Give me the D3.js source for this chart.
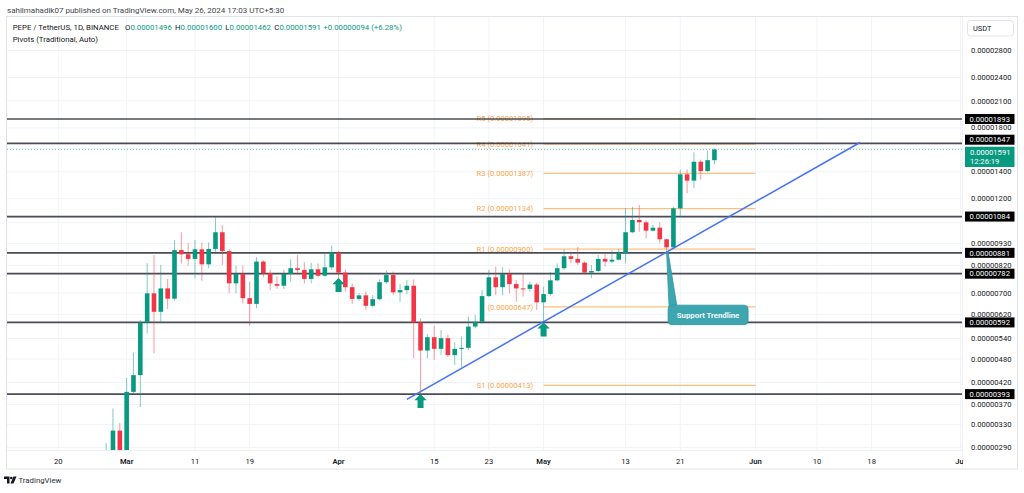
<!DOCTYPE html>
<html><head><meta charset="utf-8">
<script src="https://cdn.jsdelivr.net/npm/d3@7"></script>
<style>
body{margin:0;background:#fff;}
svg{display:block;font-family:Roboto,"Liberation Sans",sans-serif;}
</style>
</head><body>
<svg id="c" width="1024" height="493"></svg>
<script>
// ---------------- DATA ----------------
const firstDay = "2024-02-27";   // first daily candle
const opens  = [265e-8,280e-8,319e-8,281e-8,398e-8,438e-8,592e-8,699e-8,629e-8,719e-8,678e-8,895e-8,874e-8,851e-8,899e-8,825e-8,901e-8,991e-8,890e-8,740e-8,781e-8,680e-8,658e-8,838e-8,784e-8,737e-8,730e-8,781e-8,807e-8,799e-8,759e-8,802e-8,773e-8,811e-8,882e-8,787e-8,724e-8,677e-8,691e-8,651e-8,676e-8,745e-8,776e-8,703e-8,712e-8,730e-8,592e-8,504e-8,544e-8,509e-8,541e-8,491e-8,509e-8,512e-8,578e-8,594e-8,688e-8,766e-8,724e-8,781e-8,737e-8,719e-8,717e-8,735e-8,664e-8,696e-8,753e-8,807e-8,864e-8,851e-8,833e-8,787e-8,794e-8,851e-8,838e-8,847e-8,879e-8,991e-8,1063e-8,1049e-8,1000e-8,1017e-8,952e-8,909e-8,1136e-8,1380e-8,1331e-8,1483e-8,1406e-8,1496e-8];
const highs  = [297e-8,362e-8,333e-8,431e-8,498e-8,600e-8,830e-8,870e-8,822e-8,759e-8,948e-8,991e-8,930e-8,948e-8,934e-8,934e-8,1080e-8,1033e-8,898e-8,819e-8,819e-8,747e-8,859e-8,845e-8,800e-8,772e-8,799e-8,849e-8,870e-8,835e-8,833e-8,830e-8,879e-8,918e-8,890e-8,802e-8,740e-8,700e-8,706e-8,692e-8,757e-8,796e-8,792e-8,737e-8,754e-8,757e-8,606e-8,554e-8,581e-8,567e-8,551e-8,528e-8,546e-8,612e-8,618e-8,712e-8,799e-8,814e-8,811e-8,802e-8,754e-8,779e-8,747e-8,742e-8,726e-8,790e-8,830e-8,899e-8,887e-8,911e-8,840e-8,822e-8,870e-8,882e-8,895e-8,899e-8,1137e-8,1147e-8,1158e-8,1060e-8,1033e-8,1049e-8,955e-8,1145e-8,1418e-8,1418e-8,1565e-8,1500e-8,1579e-8,1600e-8];
const lows   = [258e-8,272e-8,274e-8,276e-8,395e-8,365e-8,556e-8,496e-8,589e-8,639e-8,670e-8,830e-8,819e-8,762e-8,751e-8,807e-8,879e-8,822e-8,699e-8,699e-8,660e-8,581e-8,642e-8,766e-8,712e-8,717e-8,717e-8,747e-8,781e-8,740e-8,740e-8,766e-8,768e-8,799e-8,754e-8,706e-8,658e-8,670e-8,636e-8,645e-8,672e-8,737e-8,692e-8,666e-8,696e-8,482e-8,393e-8,482e-8,478e-8,491e-8,486e-8,464e-8,458e-8,505e-8,572e-8,588e-8,684e-8,692e-8,692e-8,699e-8,666e-8,686e-8,706e-8,636e-8,594e-8,690e-8,748e-8,799e-8,830e-8,822e-8,783e-8,762e-8,790e-8,814e-8,830e-8,843e-8,830e-8,985e-8,994e-8,957e-8,995e-8,930e-8,887e-8,900e-8,1080e-8,1238e-8,1274e-8,1339e-8,1395e-8,1462e-8];
const closes = [280e-8,319e-8,281e-8,398e-8,438e-8,592e-8,699e-8,629e-8,719e-8,678e-8,895e-8,874e-8,851e-8,899e-8,825e-8,901e-8,991e-8,890e-8,740e-8,781e-8,680e-8,658e-8,838e-8,784e-8,740e-8,730e-8,781e-8,807e-8,799e-8,759e-8,802e-8,773e-8,811e-8,882e-8,787e-8,724e-8,677e-8,691e-8,651e-8,676e-8,745e-8,776e-8,703e-8,712e-8,730e-8,592e-8,504e-8,544e-8,509e-8,541e-8,491e-8,509e-8,512e-8,578e-8,594e-8,688e-8,766e-8,724e-8,781e-8,737e-8,719e-8,717e-8,735e-8,664e-8,696e-8,753e-8,807e-8,864e-8,851e-8,833e-8,787e-8,794e-8,851e-8,838e-8,847e-8,879e-8,991e-8,1063e-8,1049e-8,1000e-8,1017e-8,952e-8,909e-8,1136e-8,1380e-8,1331e-8,1483e-8,1406e-8,1496e-8,1591e-8];

const priceTicks = [2800e-8,2400e-8,2100e-8,1800e-8,1600e-8,1400e-8,1200e-8,1050e-8,930e-8,820e-8,700e-8,620e-8,540e-8,480e-8,420e-8,370e-8,330e-8,290e-8];
const dateTicks  = ["2024-02-20","2024-03-01","2024-03-11","2024-03-19","2024-04-01","2024-04-15","2024-04-23","2024-05-01","2024-05-13","2024-05-21","2024-06-01","2024-06-10","2024-06-18","2024-07-01"];

const levelValues = [1893e-8,1647e-8,1084e-8,881e-8,782e-8,592e-8,393e-8];
const pivotNames  = ["R5","R4","R3","R2","R1","","S1"];
const pivotValues = [1895e-8,1641e-8,1387e-8,1134e-8,900e-8,647e-8,413e-8];
const pivotPeriod = ["2024-05-01","2024-06-01"];

const trendDates  = ["2024-04-11T00:00","2024-06-16T07:00"];
const trendValues = [381.5e-8,1655e-8];

const arrowDates  = ["2024-04-01","2024-04-13","2024-05-01"];
const arrowValues = [763e-8,393e-8,592e-8];

const calloutText = "Support Trendline";
const calloutDate = "2024-05-19";
const calloutValue = 887e-8;

const headerTop = "sahilmahadik07 published on TradingView.com, May 26, 2024 17:03 UTC+5:30";
const symbolText = "PEPE / TetherUS, 1D, BINANCE";
const ohlcLabels = ["O","H","L","C"];
const ohlcLast = ["0.00001496","0.00001600","0.00001462","0.00001591"];
const changeText = "+0.00000094 (+6.28%)";
const indicatorText = "Pivots (Traditional, Auto)";
const countdown = "12:26:19";
const currency = "USDT";

// ---------------- SETUP ----------------
const UP="#089981", DOWN="#f23645", ORANGE="#f7a74e", ORANGE_LINE="#fbc07f";
const fmt = v => v.toFixed(8);
const parseD = d3.utcParse("%Y-%m-%d"), parseDT = d3.utcParse("%Y-%m-%dT%H:%M");
const svg = d3.select("#c");
const paneL=7, paneR=962, paneT=17, paneB=450;

const x = d3.scaleUtc().domain([parseD("2024-02-20"), parseD("2024-07-01")]).range([58.3, 960.5]);
const y = d3.scaleLog().domain([393e-8, 1893e-8]).range([394.1, 119]);

const start = parseD(firstDay);
const candles = closes.map((c,i)=>({date: d3.utcDay.offset(start,i), o:opens[i], h:highs[i], l:lows[i], c}));
const last = candles[candles.length-1];

// frame
svg.append("rect").attr("x",6.5).attr("y",16.5).attr("width",1011).attr("height",452.5)
  .attr("fill","#fff").attr("stroke","#e0e3eb");

const defs = svg.append("defs");
defs.append("clipPath").attr("id","pane").append("rect")
  .attr("x",paneL).attr("y",paneT).attr("width",paneR-paneL).attr("height",paneB-paneT);
defs.append("clipPath").attr("id","xlab").append("rect")
  .attr("x",paneL).attr("y",paneB).attr("width",963-paneL).attr("height",20);

const pane = svg.append("g").attr("clip-path","url(#pane)");

// grid
pane.selectAll(".vg").data(dateTicks).join("line")
  .attr("x1",d=>x(parseD(d))).attr("x2",d=>x(parseD(d))).attr("y1",paneT).attr("y2",paneB)
  .attr("stroke","#f0f3fa").attr("stroke-width",1);
pane.selectAll(".hg").data(priceTicks).join("line")
  .attr("x1",paneL).attr("x2",paneR).attr("y1",d=>y(d)).attr("y2",d=>y(d))
  .attr("stroke","#f0f3fa").attr("stroke-width",1);

// separators
svg.append("line").attr("x1",paneR+0.5).attr("x2",paneR+0.5).attr("y1",paneT).attr("y2",469)
  .attr("stroke","#eef0f5");
svg.append("line").attr("x1",paneL).attr("x2",paneR).attr("y1",paneB+0.5).attr("y2",paneB+0.5)
  .attr("stroke","#eef0f5");

// pivot lines
const pX0 = x(parseD(pivotPeriod[0])), pX1 = x(parseD(pivotPeriod[1]));
pane.selectAll(".pv").data(pivotValues).join("line")
  .attr("x1",pX0).attr("x2",pX1).attr("y1",d=>y(d)).attr("y2",d=>y(d))
  .attr("stroke",ORANGE_LINE).attr("stroke-width",1.4);
pane.selectAll(".pvt").data(pivotValues).join("text")
  .attr("x",pX0-10.5).attr("y",d=>y(d)).attr("dy","0.35em").attr("text-anchor","end")
  .attr("font-size",7.6).attr("fill",ORANGE)
  .text((d,i)=> (pivotNames[i]?pivotNames[i]+" ":"")+"("+fmt(d)+")");

// horizontal S/R levels
pane.selectAll(".lv").data(levelValues).join("line")
  .attr("x1",paneL).attr("x2",paneR).attr("y1",d=>y(d)).attr("y2",d=>y(d))
  .attr("stroke","#2a2e39").attr("stroke-opacity",0.85).attr("stroke-width",1.7);

// current price dotted line
pane.append("line").attr("x1",paneL).attr("x2",paneR).attr("y1",y(last.c)).attr("y2",y(last.c))
  .attr("stroke",UP).attr("stroke-opacity",0.55).attr("stroke-dasharray","1,2");

// candles
const bw = 4.6;
const cg = pane.append("g");
cg.selectAll(".wk").data(candles).join("line")
  .attr("x1",d=>x(d.date)).attr("x2",d=>x(d.date)).attr("y1",d=>y(d.h)).attr("y2",d=>y(d.l))
  .attr("stroke",d=>d.c>=d.o?UP:DOWN).attr("stroke-opacity",0.5).attr("stroke-width",1);
cg.selectAll(".bd").data(candles).join("rect")
  .attr("x",d=>x(d.date)-bw/2).attr("width",bw)
  .attr("y",d=>y(Math.max(d.o,d.c)))
  .attr("height",d=>Math.max(1,Math.abs(y(d.o)-y(d.c))))
  .attr("fill",d=>d.c>=d.o?UP:DOWN);

// trendline
pane.append("line")
  .attr("x1",x(parseDT(trendDates[0]))).attr("y1",y(trendValues[0]))
  .attr("x2",x(parseDT(trendDates[1]))).attr("y2",y(trendValues[1]))
  .attr("stroke","#4474f4").attr("stroke-width",1.5);

// arrows
arrowDates.forEach((d,i)=>{
  const ax = x(parseD(d)), ay = y(arrowValues[i]);
  pane.append("path")
    .attr("d",`M${ax},${ay} L${ax+6.2},${ay+6.2} L${ax+3},${ay+6.2} L${ax+3},${ay+14} L${ax-3},${ay+14} L${ax-3},${ay+6.2} L${ax-6.2},${ay+6.2} Z`)
    .attr("fill",UP);
});

// callout
{
  const cx = x(parseD(calloutDate)), cy = y(calloutValue);
  const bx = cx+1.5, by = cy+53.5, bwid = 80, bh = 19.5;
  const g = pane.append("g");
  g.append("path").attr("d",`M${cx},${cy} L${bx+1},${by+2} L${bx+9},${by+2} L${cx+1.4},${cy} Z`)
    .attr("fill","#3ea6b0").attr("stroke","#2f97a1").attr("stroke-width",0.8);
  g.append("rect").attr("x",bx).attr("y",by).attr("width",bwid).attr("height",bh).attr("rx",4)
    .attr("fill","#3ea6b0").attr("stroke","#2f97a1").attr("stroke-width",0.8);
  g.append("text").attr("x",bx+bwid/2).attr("y",by+bh/2).attr("dy","0.36em").attr("text-anchor","middle")
    .attr("font-size",7.8).attr("font-weight",600).attr("fill","#fff").text(calloutText);
}

// label positions on the price axis
const curTop = y(last.c)-2.7;
const levelLabelY = levelValues.map(v=>{
  let ly = y(v);
  if (ly < curTop+20 && ly > curTop-10) ly = curTop-7;
  return ly;
});

// price axis ticks (labels fully covered by a level / price badge are skipped, as in the reference)
const visibleTicks = priceTicks.filter(t=>{
  const ty = y(t);
  if (ty > curTop-4 && ty < curTop+24) return false;
  return levelLabelY.every(ly=>Math.abs(ly-ty) > 6);
});
svg.selectAll(".pt").data(visibleTicks).join("text")
  .attr("x",971).attr("y",d=>y(d)).attr("dy","0.35em")
  .attr("font-size",7.6).attr("fill","#131722").text(d=>fmt(d));

// level labels
levelValues.forEach((v,i)=>{
  const ly = levelLabelY[i];
  svg.append("rect").attr("x",965).attr("y",ly-5).attr("width",49.5).attr("height",10).attr("fill","#000");
  svg.append("text").attr("x",989.7).attr("y",ly).attr("dy","0.36em").attr("text-anchor","middle")
    .attr("font-size",7.6).attr("fill","#fff").text(fmt(v));
});
// current price label
svg.append("rect").attr("x",965).attr("y",curTop).attr("width",49.5).attr("height",20.3).attr("fill",UP);
svg.append("text").attr("x",970).attr("y",curTop+5.2).attr("dy","0.36em")
  .attr("font-size",7.6).attr("fill","#fff").text(fmt(last.c));
svg.append("text").attr("x",970).attr("y",curTop+14.2).attr("dy","0.36em")
  .attr("font-size",7.6).attr("fill","#fff").text(countdown);

// currency box
svg.append("rect").attr("x",967.5).attr("y",20.5).attr("width",46).attr("height",15.5).attr("rx",3)
  .attr("fill","#fff").attr("stroke","#e0e3eb");
svg.append("text").attr("x",973).attr("y",28.3).attr("dy","0.35em").attr("font-size",7.4)
  .attr("fill","#131722").text(currency);

// x-axis labels
const monthFmt = d3.utcFormat("%b"), dayFmt = d3.utcFormat("%-d");
svg.append("g").attr("clip-path","url(#xlab)").selectAll("text").data(dateTicks).join("text")
  .attr("x",d=>x(parseD(d))).attr("y",461).attr("dy","0.35em").attr("text-anchor","middle")
  .attr("font-size",7.6)
  .attr("font-weight",d=>parseD(d).getUTCDate()===1?600:400)
  .attr("fill","#131722")
  .text(d=>{const t=parseD(d); return t.getUTCDate()===1?monthFmt(t):dayFmt(t);});

// header
svg.append("text").attr("x",7).attr("y",10).attr("dy","0.35em").attr("font-size",8)
  .attr("fill","#434651").text(headerTop);
const hy = 27.7;
svg.append("text").attr("x",12.7).attr("y",hy).attr("dy","0.35em").attr("font-size",7.8)
  .attr("fill","#131722").text(symbolText);
const ohlcX = [125,175,225.3,274.3];
ohlcLabels.forEach((l,i)=>{
  const t = svg.append("text").attr("x",ohlcX[i]).attr("y",hy).attr("dy","0.35em").attr("font-size",7.8);
  t.append("tspan").attr("fill","#131722").text(l);
  t.append("tspan").attr("fill",UP).text(ohlcLast[i]);
});
svg.append("text").attr("x",323.3).attr("y",hy).attr("dy","0.35em").attr("font-size",7.8)
  .attr("fill",UP).text(changeText);
svg.append("text").attr("x",12.7).attr("y",39.5).attr("dy","0.35em").attr("font-size",7.8)
  .attr("fill","#131722").text(indicatorText);

// footer logo
const lg = svg.append("g").attr("fill","#131722");
lg.append("path").attr("d","M4,476.5 H9.5 V483.5 H7 V479 H4 Z");
lg.append("circle").attr("cx",11.3).attr("cy",478).attr("r",1.3);
lg.append("path").attr("d","M13.5,476.5 H16.5 L13.5,483.5 H10.5 Z");
svg.append("text").attr("x",18.5).attr("y",480).attr("dy","0.35em").attr("font-size",7.8)
  .attr("fill","#2a2e39").text("TradingView");
</script>
</body></html>
